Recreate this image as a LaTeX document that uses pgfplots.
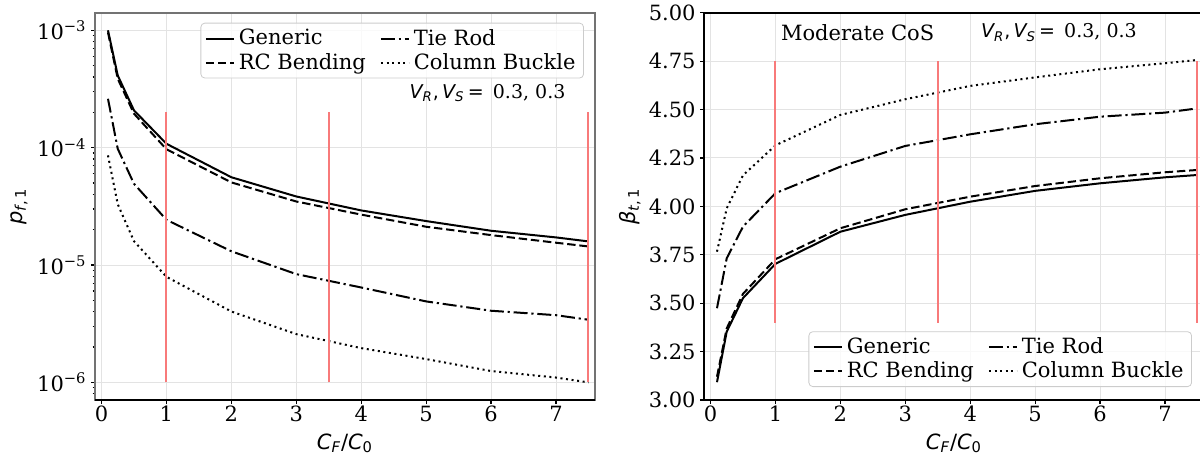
\documentclass[border=0pt]{standalone}
\usepackage{fontspec}
\setmainfont{DejaVu Serif}
\newfontfamily\dvs{DejaVu Sans}
\usepackage{pgfplots}
\pgfplotsset{compat=1.18}

\definecolor{vred}{RGB}{248,122,122}
\newcommand{\mi}[1]{{\dvs\itshape #1}}
\newcommand{\mr}[1]{{\dvs #1}}
\newcommand{\fs}{\fontsize{10.5}{12.6}\selectfont}
\newcommand{\fa}{\fontsize{9.5}{11.4}\selectfont}

% p_f,1 against C_F/C_0
\pgfplotstableread{
x    gen      rc       tie      col
0.1  1.00e-3  9.60e-4  2.61e-4  8.60e-5
0.25 4.13e-4  3.87e-4  9.80e-5  3.30e-5
0.5  2.08e-4  1.95e-4  4.93e-5  1.60e-5
1    1.08e-4  9.70e-5  2.43e-5  7.94e-6
2    5.60e-5  5.06e-5  1.31e-5  4.02e-6
3    3.84e-5  3.48e-5  8.37e-6  2.58e-6
4    2.92e-5  2.69e-5  6.44e-6  1.96e-6
5    2.37e-5  2.12e-5  4.90e-6  1.58e-6
6    1.96e-5  1.80e-5  4.08e-6  1.25e-6
7    1.72e-5  1.55e-5  3.74e-6  1.10e-6
7.5  1.59e-5  1.44e-5  3.42e-6  1.00e-6
}\pftab

% beta_t,1 against C_F/C_0
\pgfplotstableread{
x    gen    rc     tie    col
0.1  3.092  3.120  3.474  3.766
0.25 3.353  3.370  3.732  3.990
0.5  3.526  3.548  3.895  4.160
1    3.703  3.727  4.068  4.315
2    3.869  3.887  4.205  4.472
3    3.956  3.985  4.312  4.553
4    4.024  4.050  4.372  4.622
5    4.080  4.105  4.424  4.666
6    4.119  4.145  4.463  4.708
7    4.150  4.176  4.484  4.739
7.5  4.162  4.188  4.506  4.756
}\betatab

\pgfplotsset{
  panel/.style={
    scale only axis, width=250pt, height=193.65pt,
    xmin=-0.1, xmax=7.6, xtick={0,...,7},
    tick align=outside, tick pos=left,
    major tick length=2pt, minor tick length=1.2pt,
    every tick/.style={black, line width=0.6pt},
    grid=major, major grid style={gray!22, line width=0.5pt},
    axis line style={line width=0.8pt},
    tick label style={font=\fs}, label style={font=\fs},
    /pgf/number format/assume math mode=true,
    xticklabel style={inner sep=1pt}, yticklabel style={inner sep=2pt},
    xlabel={\mi{C}\textsubscript{\mi{F}}\mr{/}\mi{C}\textsubscript{\mr{0}}},
    xlabel style={at={(axis description cs:0.5,-0.111)}, anchor=center},
    legend columns=2, legend cell align=left,
    legend image code/.code={\draw[##1] (0pt,0pt) -- (14pt,0pt);},
    legend style={draw=black!20, rounded corners=2pt, fill=white,
      fill opacity=0.8, text opacity=1, draw opacity=1, font=\fs,
      inner xsep=2pt, inner ysep=1pt, row sep=-1.5pt},
    /tikz/every even column/.append style={column sep=5pt},
  },
  gen/.style={black, line width=1pt},
  rc/.style={black, line width=1pt, dash pattern=on 4.2pt off 1.9pt},
  tie/.style={black, line width=1pt, dash pattern=on 7pt off 1.9pt on 1.1pt off 1.9pt},
  col/.style={black, line width=1pt, dash pattern=on 1pt off 1.8pt},
  redmark/.style={draw=vred, line width=1pt, solid, opacity=1, forget plot},
}

\begin{document}
\begin{tikzpicture}
\begin{axis}[panel,
  at={(47.5pt,28.5pt)}, anchor=south west,
  ymode=log, ymin=7.08e-7, ymax=1.413e-3,
  ytick={1e-6,1e-5,1e-4,1e-3},
  yticklabels={10\textsuperscript{−6},10\textsuperscript{−5},10\textsuperscript{−4},10\textsuperscript{−3}},
  minor ytick={8e-7,9e-7,2e-6,3e-6,4e-6,5e-6,6e-6,7e-6,8e-6,9e-6,
    2e-5,3e-5,4e-5,5e-5,6e-5,7e-5,8e-5,9e-5,
    2e-4,3e-4,4e-4,5e-4,6e-4,7e-4,8e-4,9e-4},
  axis line style={black!55},
  ylabel={\mi{p}\textsubscript{\mi{f}\mr{,\,1}}},
  ylabel style={at={(axis description cs:-0.152,0.5)}, anchor=center},
  legend style={at={(1,1)}, anchor=north east, xshift=-5.5pt, yshift=-5pt},
]
\addplot[gen] table[x=x,y=gen] {\pftab};
\addlegendentry{Generic}
\addplot[tie] table[x=x,y=tie] {\pftab};
\addlegendentry{Tie Rod}
\addplot[rc] table[x=x,y=rc] {\pftab};
\addlegendentry{RC Bending}
\addplot[col] table[x=x,y=col] {\pftab};
\addlegendentry{Column Buckle}
\addplot[redmark] coordinates {(1,1e-6) (1,2e-4)};
\addplot[redmark] coordinates {(3.5,1e-6) (3.5,2e-4)};
\addplot[redmark] coordinates {(7.5,1e-6) (7.5,2e-4)};
\draw[black, line width=0.8pt] (rel axis cs:0,0) -- (rel axis cs:1,0);
\node[anchor=east, font=\fa] at (rel axis cs:0.955,0.793)
  {\mi{V}\textsubscript{\mi{R}}\mr{,\,}\mi{V}\textsubscript{\mi{S}}\mr{\,=\,} 0.3, 0.3};
\end{axis}

\begin{axis}[panel,
  at={(352pt,28.5pt)}, anchor=south west,
  ymin=3, ymax=5, ytick={3,3.25,...,5},
  yticklabel style={/pgf/number format/.cd, fixed, fixed zerofill, precision=2},
  ylabel={\mi{β}\textsubscript{\mi{t}\mr{,\,1}}},
  ylabel style={at={(axis description cs:-0.148,0.5)}, anchor=center},
  legend style={at={(1,0)}, anchor=south east, xshift=-6pt, yshift=6.5pt},
]
\addplot[gen] table[x=x,y=gen] {\betatab};
\addlegendentry{Generic}
\addplot[tie] table[x=x,y=tie] {\betatab};
\addlegendentry{Tie Rod}
\addplot[rc] table[x=x,y=rc] {\betatab};
\addlegendentry{RC Bending}
\addplot[col] table[x=x,y=col] {\betatab};
\addlegendentry{Column Buckle}
\addplot[redmark] coordinates {(1,3.4) (1,4.75)};
\addplot[redmark] coordinates {(3.5,3.4) (3.5,4.75)};
\addplot[redmark] coordinates {(7.5,3.4) (7.5,4.75)};
\node[anchor=west, font=\fs] at (rel axis cs:0.14,0.948) {Moderate CoS};
\node[anchor=west, font=\fa] at (rel axis cs:0.54,0.948)
  {\mi{V}\textsubscript{\mi{R}}\mr{,\,}\mi{V}\textsubscript{\mi{S}}\mr{\,=\,} 0.3, 0.3};
\end{axis}
\pgfresetboundingbox
\path (0pt,0pt) rectangle (600pt,228.5pt);
\end{tikzpicture}
\end{document}
